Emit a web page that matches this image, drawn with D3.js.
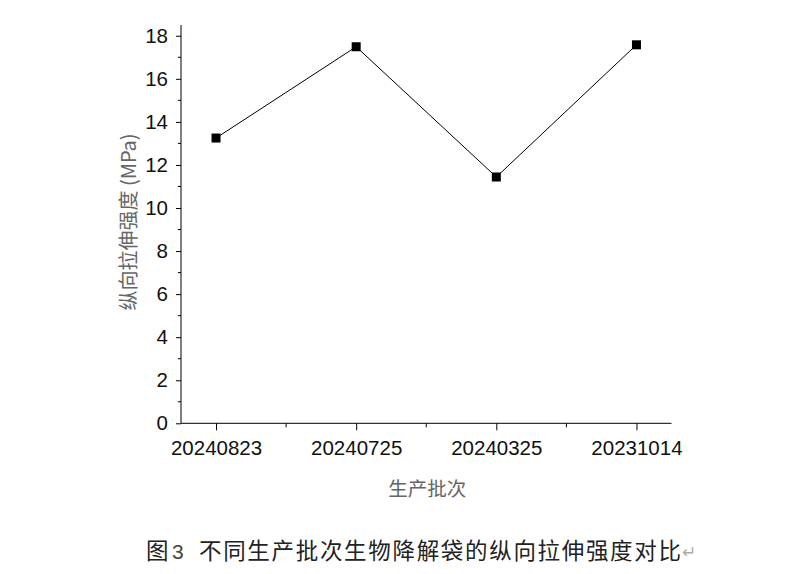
<!DOCTYPE html>
<html><head><meta charset="utf-8">
<script src="https://cdn.jsdelivr.net/npm/d3@7"></script>
<style>body{margin:0;background:#fff}svg{display:block}</style>
</head><body>
<svg id="c" width="800" height="574"></svg>
<script>
const categories = ["20240823","20240725","20240325","20231014"];
const values = [13.25, 17.49, 11.44, 17.58];
const yTicks = [0,2,4,6,8,10,12,14,16,18];
const xTitle = "生产批次";
const yTitle = "纵向拉伸强度 (MPa)";
const captionHead = "图";
const captionNum = "3";
const captionBody = "不同生产批次生物降解袋的纵向拉伸强度对比";

const svg = d3.select("#c");
const L = 181, R = 671.5, T = 25, B = 423.3;
const x = d3.scalePoint().domain(categories).range([L, R]).padding(0.25);
const y = d3.scaleLinear().domain([0, 18.5]).range([B, T]);
const font = "'Liberation Sans', Arial, sans-serif";

// y axis
const ya = svg.append("g").attr("transform", `translate(${L},0)`)
  .call(d3.axisLeft(y).tickValues(yTicks).tickSize(5).tickPadding(8).tickFormat(d3.format("d")));
ya.select(".domain").attr("d", `M0,${B}V${T}`);
ya.selectAll("text").attr("font-family", font).attr("font-size", 20.5).attr("fill", "#111");
ya.selectAll("line,path").attr("stroke", "#000");
const yMinor = d3.range(1, 18.5, 2);
svg.append("g").selectAll("line").data(yMinor).join("line")
  .attr("x1", L - 3).attr("x2", L).attr("y1", d => y(d)).attr("y2", d => y(d)).attr("stroke", "#000");

// x axis
const xa = svg.append("g").attr("transform", `translate(0,${B})`)
  .call(d3.axisBottom(x).tickSize(7).tickPadding(10));
xa.select(".domain").attr("d", `M${L},0H${R}`);
xa.selectAll("text").attr("font-family", font).attr("font-size", 20.5).attr("fill", "#111");
xa.selectAll("line,path").attr("stroke", "#000");
const mids = categories.slice(0, -1).map((c, i) => (x(c) + x(categories[i + 1])) / 2);
svg.append("g").selectAll("line").data(mids).join("line")
  .attr("x1", d => d).attr("x2", d => d).attr("y1", B).attr("y2", B + 4).attr("stroke", "#000");

// line + markers
const pts = categories.map((c, i) => [x(c), y(values[i])]);
svg.append("path").attr("d", d3.line()(pts)).attr("fill", "none").attr("stroke", "#000").attr("stroke-width", 1);
svg.append("g").selectAll("rect").data(pts).join("rect")
  .attr("x", d => d[0] - 4.5).attr("y", d => d[1] - 4.5).attr("width", 9).attr("height", 9).attr("fill", "#000");

// titles
svg.append("text").attr("x", (L + R) / 2 + 1).attr("y", 496).attr("text-anchor", "middle")
  .attr("font-family", "'Noto Sans CJK SC', sans-serif").attr("font-size", 19.5).attr("fill", "#666").text(xTitle);
svg.append("text").attr("transform", `translate(136,${222}) rotate(-90)`).attr("text-anchor", "middle")
  .attr("font-family", "'Noto Sans CJK SC', 'Liberation Sans', sans-serif").attr("font-size", 20).attr("fill", "#666").text(yTitle);

// caption
const capFont = "'Noto Sans CJK SC', sans-serif";
svg.append("text").attr("x", 146).attr("y", 559).attr("font-family", capFont)
  .attr("font-size", 22.5).attr("fill", "#222").text(captionHead);
svg.append("text").attr("x", 172).attr("y", 559).attr("font-family", font)
  .attr("font-size", 21).attr("fill", "#444").text(captionNum);
svg.append("text").attr("x", 199).attr("y", 559).attr("font-family", capFont)
  .attr("font-size", 22.5).attr("fill", "#222")
  .attr("textLength", 482).attr("lengthAdjust", "spacing").text(captionBody);
svg.append("text").attr("x", 682).attr("y", 558).attr("font-family", font)
  .attr("font-size", 17).attr("fill", "#aaa").text("↵");
</script>
</body></html>
